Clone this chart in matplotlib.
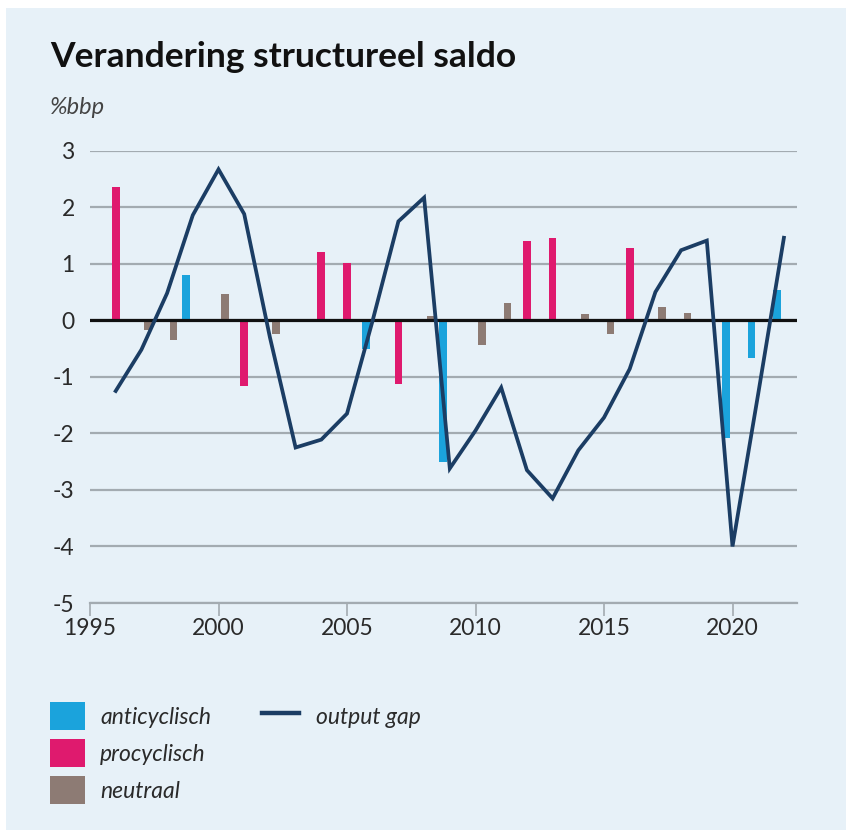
import numpy as np
import matplotlib.pyplot as plt
from matplotlib.patches import Rectangle, Patch
from matplotlib.lines import Line2D

plt.rcParams['font.family'] = ['Lato', 'DejaVu Sans']

# Data
years = np.arange(1996, 2023)
anticyclisch = [0, 0, 0, 0.81, 0, 0, 0, 0, 0, 0, -0.50, 0, 0, -2.51, 0, 0, 0, 0, 0, 0, 0, 0, 0, 0, -2.09, -0.66, 0.54]
procyclisch = [2.36, 0, 0, 0, 0, -1.17, 0, 0, 1.20, 1.02, 0, -1.12, 0, 0, 0, 0, 1.41, 1.45, 0, 0, 1.28, 0, 0, 0, 0, 0, 0]
neutraal = [0, -0.18, -0.35, 0, 0.46, 0, -0.24, 0.02, 0, 0, 0, 0, 0.08, 0, -0.43, 0.30, 0, 0, 0.12, -0.24, 0, 0.24, 0.13, 0, 0, 0, 0]
output_gap = [-1.25, -0.52, 0.48, 1.86, 2.67, 1.88, -0.30, -2.25, -2.11, -1.65, 0.00, 1.75, 2.17, -2.62,
              -1.95, -1.19, -2.65, -3.15, -2.30, -1.72, -0.86, 0.50, 1.24, 1.41, -4.00, -1.30, 1.46]

x_ticks = [1995, 2000, 2005, 2010, 2015, 2020]
y_ticks = [3, 2, 1, 0, -1, -2, -3, -4, -5]

bg = '#e7f1f8'
c_anti = '#1ba3dc'
c_pro = '#df1a6e'
c_neu = '#8d7b74'
c_line = '#1b3d64'
c_grid = '#a3abb1'
c_text = '#2a2a2a'

W, H = 846, 830
fig = plt.figure(figsize=(W / 100, H / 100), dpi=100)
fig.patches.append(Rectangle((6 / W, 0), 1, 1 - 8 / H, transform=fig.transFigure,
                             facecolor=bg, edgecolor='none', zorder=-10))

ax = fig.add_axes([90 / W, 1 - 603 / H, 707 / W, (603 - 150.7) / H])
ax.set_facecolor('none')

bw = 0.30
ax.bar(years - 0.26, anticyclisch, width=bw, color=c_anti, zorder=3)
ax.bar(years, procyclisch, width=bw, color=c_pro, zorder=3)
ax.bar(years + 0.25, neutraal, width=bw, color=c_neu, zorder=3)
ax.axhline(0, color='#111111', lw=2.3, zorder=4)
ax.plot(years, output_gap, color=c_line, lw=2.7, zorder=5, solid_joinstyle='miter')

ax.set_xlim(1995, 1995 + 707 / 25.7)
ax.set_ylim(-5, 3)
ax.set_yticks(y_ticks)
ax.set_yticklabels([str(v) for v in y_ticks])
ax.set_xticks(x_ticks)
ax.grid(axis='y', color=c_grid, lw=1.6, zorder=1)
ax.set_axisbelow(True)
for s in ['top', 'right', 'left']:
    ax.spines[s].set_visible(False)
ax.spines['bottom'].set_color(c_grid)
ax.spines['bottom'].set_linewidth(1.6)
ax.tick_params(axis='y', length=0, pad=11, labelsize=16.5, labelcolor=c_text)
ax.tick_params(axis='x', length=9, width=1.2, color=c_grid, pad=2, labelsize=16.5, labelcolor=c_text)

fig.text(50 / W, 1 - 57 / H, 'Verandering structureel saldo', fontsize=25.5, fontweight='bold',
         color='#111111', va='center', ha='left')
fig.text(50 / W, 1 - 108 / H, '%bbp', fontsize=17, style='italic', color='#444444', va='center', ha='left')

fs = 16.5
h1 = [Patch(facecolor=c_anti, label='anticyclisch'),
      Patch(facecolor=c_pro, label='procyclisch'),
      Patch(facecolor=c_neu, label='neutraal')]
leg1 = fig.legend(handles=h1, loc='upper left', bbox_to_anchor=(50 / W, 1 - 702 / H), frameon=False,
                  fontsize=fs, handlelength=1.53, handleheight=1.5, handletextpad=0.65,
                  labelspacing=0.4, borderpad=0, borderaxespad=0)
for t in leg1.get_texts():
    t.set_style('italic')
    t.set_color(c_text)
h2 = [Line2D([0], [0], color=c_line, lw=3.2, label='output gap')]
leg2 = fig.legend(handles=h2, loc='upper left', bbox_to_anchor=(262 / W, 1 - 702 / H), frameon=False,
                  fontsize=fs, handlelength=1.6, handleheight=1.5, handletextpad=0.75,
                  borderpad=0, borderaxespad=0)
for t in leg2.get_texts():
    t.set_style('italic')
    t.set_color(c_text)

fig.savefig('out.png', dpi=100, facecolor='white')
